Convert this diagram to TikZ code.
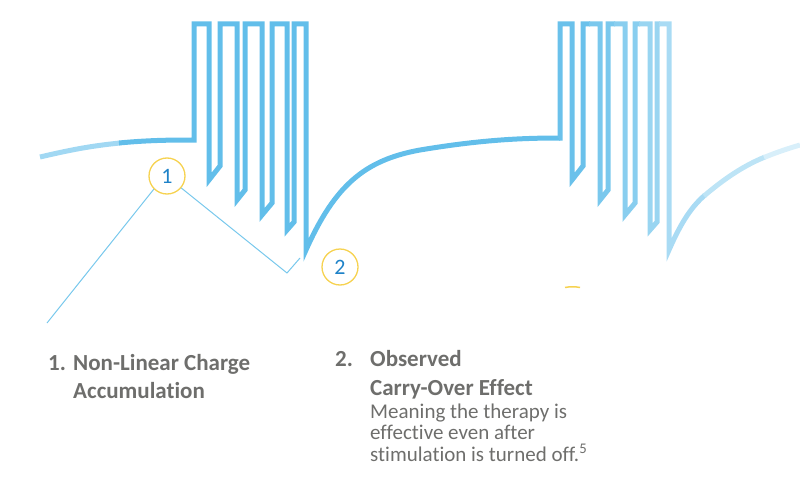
\documentclass[tikz,border=0pt]{standalone}
\usepackage{fontspec}
\setmainfont{Carlito}[Ligatures=NoCommon]
\begin{document}
\begin{tikzpicture}[x=1pt,y=-1pt,
  wave/.style={line width=5pt,line join=miter,miter limit=20},
  conn/.style={line width=1pt,draw=lineblue},
  badge/.style={circle,draw=ringyellow,line width=1.3pt,minimum size=36pt,inner sep=0pt,text=numblue,font=\fontsize{22}{22}\selectfont},
  bold/.style={anchor=base west,text=txtgray,font=\fontsize{23}{23}\selectfont\bfseries,inner sep=0pt},
  reg/.style={anchor=base west,text=txtgray,font=\fontsize{21}{21}\selectfont,inner sep=0pt}]
\definecolor{wblue}{RGB}{98,190,234}
\definecolor{lineblue}{RGB}{120,200,236}
\definecolor{ringyellow}{RGB}{246,210,80}
\definecolor{numblue}{RGB}{30,130,200}
\definecolor{txtgray}{RGB}{110,110,108}
\useasboundingbox (0,0) rectangle (800,487);
% set 1
\draw[wave,wblue!60] (40,157) .. controls (70,150) and (90,146) .. (120,143);
\draw[wave,wblue] (119,143) .. controls (150,140) and (175,140) .. (194,140)
  --(194,24)--(209,24)--(209,180)--(220,166)--(220,24)--(237,24)--(237,200)--(245,190)
  --(245,24)--(262,24)--(262,215)--(272,203)--(272,24)--(287,24)--(287,230)--(294,222)
  --(294,24)--(306,24)--(306,250)
  .. controls (335,185) and (365,160) .. (420,150) .. controls (480,140) and (520,138) .. (560,138);
% set 2 fading
\draw[wave,wblue!95] (559,138)--(560,138)--(560,24)--(572,24)--(572,180)--(583,166)--(583,24)--(590,24);
\draw[wave,wblue!85] (589,24)--(600,24)--(600,200)--(608,190)--(608,24)--(615,24);
\draw[wave,wblue!75] (614,24)--(625,24)--(625,215)--(635,203)--(635,24)--(640,24);
\draw[wave,wblue!65] (639,24)--(650,24)--(650,230)--(657,222)--(657,24)--(660,24);
\draw[wave,wblue!55] (659,24)--(669,24)--(669,250) .. controls (680,225) and (690,208) .. (705,195);
\draw[wave,wblue!42] (704,196) .. controls (725,178) and (745,165) .. (765,157);
\draw[wave,wblue!25] (764,157.5) .. controls (780,151) and (790,148) .. (800,145);
% badges and connectors
\node[badge] (b1) at (167,176) {1};
\node[badge] (b2) at (340,267) {2};
\coordinate (e1) at (47,323);
\coordinate (k1) at (287,273);
\coordinate (e2) at (300,258);
\draw[conn] (b1.225) -- (e1);
\draw[conn] (b1.-40) -- (k1) -- (e2);
\draw[ringyellow,line width=1.5pt] (565,287.5) .. controls (570,286.5) and (575,286.5) .. (580,287.5);
% texts
\node[bold] (n1) at (48,370) {1.};
\node[bold] (t1a) at (73,370) {Non-Linear Charge};
\node[bold] (t1b) at (73,398) {Accumulation};
\node[bold] (n2) at (335,366) {2.};
\node[bold] (t2a) at (370,366) {Observed};
\node[bold] (t2b) at (370,395) {Carry-Over Effect};
\node[reg] (t2c) at (370,418) {Meaning the therapy is};
\node[reg] (t2d) at (370,439) {effective even after};
\node[reg] (t2e) at (370,461) {stimulation is turned off.\textsuperscript{5}};
\end{tikzpicture}
\end{document}
